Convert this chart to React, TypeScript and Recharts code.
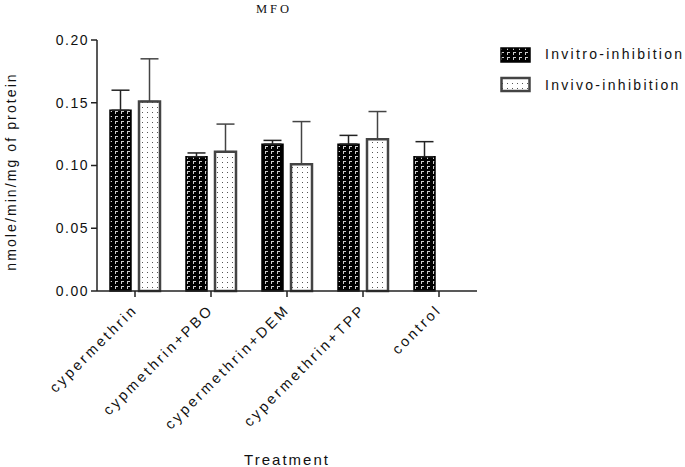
import React from "react";
import { BarChart, Bar, XAxis, YAxis, ErrorBar } from "recharts";

const categories = ["cypermethrin", "cypmethrin+PBO", "cypermethrin+DEM", "cypermethrin+TPP", "control"];
const invitro = [0.144, 0.107, 0.117, 0.117, 0.107];
const invitroErr = [0.016, 0.003, 0.003, 0.007, 0.012];
const invivo: (number | null)[] = [0.151, 0.111, 0.101, 0.121, null];
const invivoErr = [0.034, 0.022, 0.034, 0.022, 0];
const yTicks = [0, 0.05, 0.1, 0.15, 0.2];

const data = categories.map((name, i) => ({
  name,
  invitro: invitro[i],
  invitroErr: [0, invitroErr[i]],
  invivo: invivo[i],
  invivoErr: [0, invivoErr[i]],
}));

const font = "'Liberation Sans', Arial, sans-serif";

function XTick(props: any) {
  const { x, y, payload } = props;
  return (
    <g transform={`translate(${x},${y + 8})`}>
      <text
        transform="rotate(-45)"
        textAnchor="end"
        fontFamily={font}
        fontSize={14.5}
        letterSpacing={2.8}
        fill="#111"
        dy={5}
      >
        {payload.value}
      </text>
    </g>
  );
}

function YLabel(props: any) {
  const { viewBox } = props;
  const cy = viewBox.y + viewBox.height / 2 + 6;
  return (
    <text
      x={11}
      y={cy}
      transform={`rotate(-90, 11, ${cy})`}
      textAnchor="middle"
      dominantBaseline="central"
      fontFamily={font}
      fontSize={14}
      letterSpacing={2.1}
      fill="#111"
    >
      nmole/min/mg of protein
    </text>
  );
}

function LegendBox() {
  return (
    <div style={{ position: "absolute", left: 500, top: 46, fontFamily: font, fontSize: 14, letterSpacing: 2.3, color: "#111" }}>
      <svg width={32} height={50} style={{ position: "absolute", left: 0, top: 0 }}>
        <rect x={1} y={2} width={29} height={14} fill="url(#patInvitro)" stroke="#000" strokeWidth={1.5} />
        <rect x={1.5} y={32} width={28} height={13} fill="url(#patInvivo)" stroke="#444" strokeWidth={2.5} />
      </svg>
      <div style={{ position: "absolute", left: 45, top: 0, whiteSpace: "nowrap" }}>Invitro-inhibition</div>
      <div style={{ position: "absolute", left: 45, top: 31, whiteSpace: "nowrap" }}>Invivo-inhibition</div>
    </div>
  );
}

export default function App() {
  return (
    <div style={{ position: "absolute", left: 0, top: 0, width: 685, height: 467, background: "#fff", overflow: "hidden" }}>
      <div
        style={{
          position: "absolute",
          left: 0,
          width: 548,
          top: 2,
          textAlign: "center",
          fontFamily: "'Liberation Serif', 'Times New Roman', serif",
          fontSize: 12.5,
          letterSpacing: 3,
          color: "#111",
        }}
      >
        MFO
      </div>
      <BarChart
        width={685}
        height={467}
        data={data}
        margin={{ top: 40, right: 208, left: 0, bottom: 46 }}
        barSize={21}
        barGap={8}
      >
        <defs>
          <pattern id="patInvitro" width={6} height={5} patternUnits="userSpaceOnUse">
            <rect width={6} height={5} fill="#000" />
            <rect x={1} y={1} width={3} height={1} fill="#ccc" />
            <rect x={1} y={2} width={1} height={2} fill="#ccc" />
          </pattern>
          <pattern id="patInvivo" width={5} height={5} patternUnits="userSpaceOnUse">
            <rect width={5} height={5} fill="#fff" />
            <rect x={2} y={2} width={1} height={1} fill="#555" />
          </pattern>
        </defs>
        <XAxis
          dataKey="name"
          height={130}
          tick={<XTick />}
          interval={0}
          stroke="#222"
          strokeWidth={1.5}
          tickSize={6}
          label={{ value: "Treatment", position: "insideBottom", offset: -44, fontFamily: font, fontSize: 15, letterSpacing: 2, fill: "#111", dx: 0 }}
        />
        <YAxis
          width={97}
          domain={[0, 0.2]}
          ticks={yTicks}
          tickFormatter={(v: number) => v.toFixed(2)}
          stroke="#222"
          strokeWidth={1.5}
          tickSize={6}
          tick={{ fontFamily: font, fontSize: 14, letterSpacing: 1.5, fill: "#111" }}
          label={<YLabel />}
        />
        <Bar dataKey="invitro" fill="url(#patInvitro)" stroke="#000" strokeWidth={1.5} isAnimationActive={false}>
          <ErrorBar dataKey="invitroErr" width={9} stroke="#222" strokeWidth={1.5} direction="y" />
        </Bar>
        <Bar dataKey="invivo" fill="url(#patInvivo)" stroke="#444" strokeWidth={2.5} isAnimationActive={false}>
          <ErrorBar dataKey="invivoErr" width={9} stroke="#444" strokeWidth={1.5} direction="y" />
        </Bar>
      </BarChart>
      <LegendBox />
    </div>
  );
}
